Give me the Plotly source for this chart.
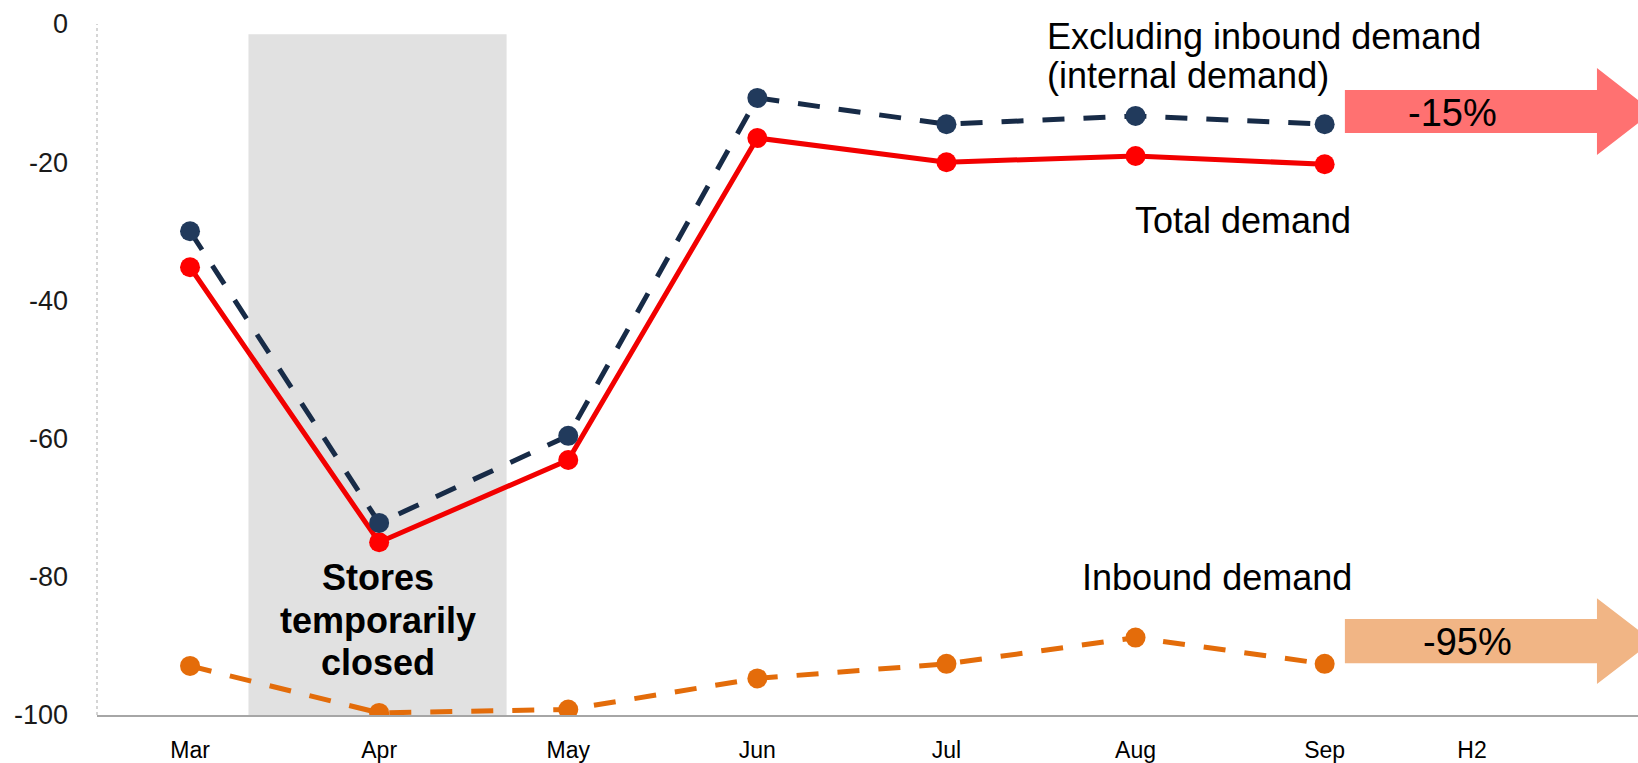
import plotly.graph_objects as go

months = ["Mar", "Apr", "May", "Jun", "Jul", "Aug", "Sep"]
excluding_inbound = [-30.0, -72.2, -59.6, -10.7, -14.5, -13.3, -14.5]
total_demand = [-35.2, -75.0, -63.1, -16.5, -20.0, -19.1, -20.3]
inbound_demand = [-92.9, -99.7, -99.2, -94.7, -92.6, -88.8, -92.6]
extra_tick_label = "H2"
y_ticks = [0, -20, -40, -60, -80, -100]
y_tick_text = ["0", "-20", "-40", "-60", "-80", "-100"]
arrow_labels = ["-15%", "-95%"]

x = list(range(len(months)))
FONT = "Arial, Liberation Sans, sans-serif"

fig = go.Figure()

fig.add_trace(go.Scatter(
    x=x, y=inbound_demand, mode="lines+markers",
    line=dict(color="#E36C0A", width=5, dash="22px,19px"),
    marker=dict(color="#E46C0A", size=20), showlegend=False))
fig.add_trace(go.Scatter(
    x=x, y=total_demand, mode="lines+markers",
    line=dict(color="#F20000", width=5),
    marker=dict(color="#FF0000", size=20), showlegend=False))
fig.add_trace(go.Scatter(
    x=x, y=excluding_inbound, mode="lines+markers",
    line=dict(color="#172B47", width=5, dash="22px,19px"),
    marker=dict(color="#213A5C", size=20), showlegend=False))

shapes = []
# shaded closure period
shapes.append(dict(type="rect", xref="x", yref="y", x0=0.309, x1=1.674, y0=-100, y1=-1.5,
                   fillcolor="#E1E1E1", line=dict(width=0), layer="below"))
# dotted y axis line
shapes.append(dict(type="line", xref="paper", yref="y", x0=0, x1=0, y0=-100, y1=0,
                   line=dict(color="#C8C8C8", width=1.5, dash="dot"), layer="below"))


def arrow(body_l, head_s, tip, bt, bb, ht, hb, color):
    c = (ht + hb) / 2
    path = (f"M {body_l},{bt} L {head_s},{bt} L {head_s},{ht} L {tip},{c} "
            f"L {head_s},{hb} L {head_s},{bb} L {body_l},{bb} Z")
    return dict(type="path", xref="x", yref="y", path=path, fillcolor=color,
                line=dict(width=0), layer="above")


shapes.append(arrow(6.107, 7.44, 7.736, -9.55, -15.77, -6.37, -18.96, "#FF7171"))
shapes.append(arrow(6.107, 7.44, 7.736, -86.1, -92.5, -83.1, -95.5, "#F1B585"))

annotations = [
    dict(x=4.521, y=-1.8, text="Excluding inbound demand", xanchor="left", showarrow=False,
         font=dict(size=36, color="#000000", family=FONT)),
    dict(x=4.521, y=-7.5, text="(internal demand)", xanchor="left", showarrow=False,
         font=dict(size=36, color="#000000", family=FONT)),
    dict(x=5.568, y=-28.4, text="Total demand", showarrow=False,
         font=dict(size=36, color="#000000", family=FONT)),
    dict(x=5.431, y=-80.1, text="Inbound demand", showarrow=False,
         font=dict(size=36, color="#000000", family=FONT)),
    dict(x=0.994, y=-80.1, text="<b>Stores</b>", showarrow=False,
         font=dict(size=36, color="#000000", family=FONT)),
    dict(x=0.994, y=-86.3, text="<b>temporarily</b>", showarrow=False,
         font=dict(size=36, color="#000000", family=FONT)),
    dict(x=0.994, y=-92.4, text="<b>closed</b>", showarrow=False,
         font=dict(size=36, color="#000000", family=FONT)),
    dict(x=6.674, y=-12.9, text=arrow_labels[0], showarrow=False,
         font=dict(size=38, color="#000000", family=FONT)),
    dict(x=6.753, y=-89.4, text=arrow_labels[1], showarrow=False,
         font=dict(size=38, color="#000000", family=FONT)),
]

fig.update_layout(
    width=1638, height=763,
    margin=dict(l=97, r=0, t=24, b=48),
    paper_bgcolor="white", plot_bgcolor="white",
    shapes=shapes, annotations=annotations,
    xaxis=dict(range=[-0.492, 7.657], tickvals=x + [6.779], ticktext=months + [extra_tick_label],
               showgrid=False, zeroline=False, showline=True, linecolor="#A6A6A6", linewidth=2,
               ticks="", ticklabelstandoff=13, automargin=False,
               tickfont=dict(size=23, color="#000000", family=FONT)),
    yaxis=dict(range=[-100, 0], tickvals=y_ticks, ticktext=y_tick_text, showgrid=False,
               zeroline=False, showline=False, ticks="", ticklabelstandoff=28, automargin=False,
               tickfont=dict(size=27, color="#1A1A1A", family=FONT)),
)

fig.write_html("out.html")
